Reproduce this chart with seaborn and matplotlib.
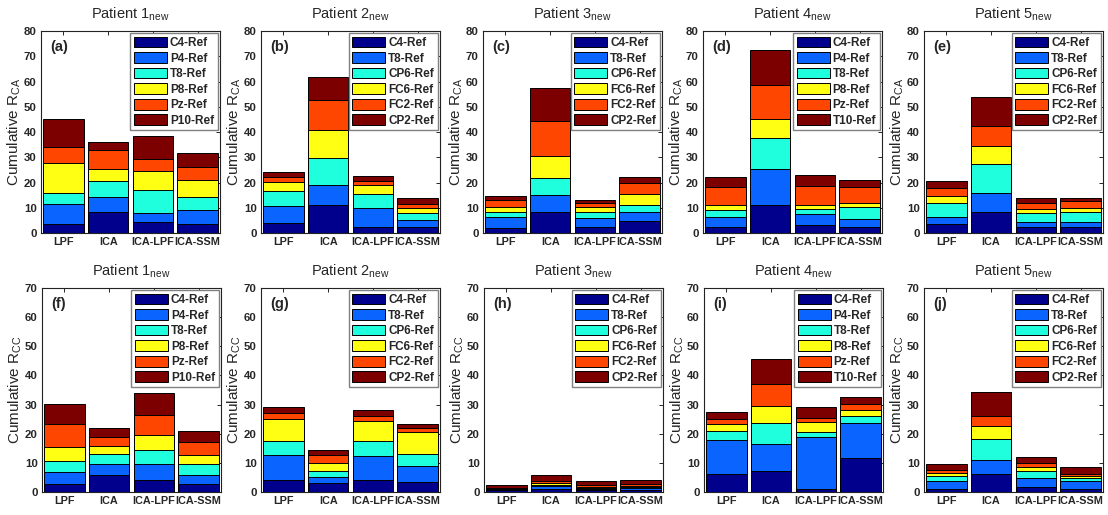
import numpy as np
import pandas as pd
import matplotlib
matplotlib.use("Agg")
import matplotlib.pyplot as plt
import seaborn as sns
from matplotlib.patches import Patch

sns.set_style("white")
plt.rcParams["font.family"] = ["Liberation Sans", "DejaVu Sans"]
plt.rcParams["mathtext.fontset"] = "custom"
plt.rcParams["mathtext.rm"] = "Liberation Sans"
plt.rcParams["mathtext.bf"] = "Liberation Sans:bold"

methods = ["LPF", "ICA", "ICA-LPF", "ICA-SSM"]
patients = ["1", "2", "3", "4", "5"]
labels_ca = ["(a)", "(b)", "(c)", "(d)", "(e)"]
labels_cc = ["(f)", "(g)", "(h)", "(i)", "(j)"]

elec_p1 = ["C4-Ref", "P4-Ref", "T8-Ref", "P8-Ref", "Pz-Ref", "P10-Ref"]
elec_p235 = ["C4-Ref", "T8-Ref", "CP6-Ref", "FC6-Ref", "FC2-Ref", "CP2-Ref"]
elec_p4 = ["C4-Ref", "P4-Ref", "T8-Ref", "P8-Ref", "Pz-Ref", "T10-Ref"]

colors = ["#00008C", "#0A64FF", "#20FFDD", "#FFFF14", "#FF4600", "#7D0000"]

# rows = electrodes (bottom to top), columns = methods (LPF, ICA, ICA-LPF, ICA-SSM)
ca_p1 = [[3.5, 8.2, 4.2, 3.5], [8.0, 6.1, 3.6, 5.7], [4.5, 6.2, 9.2, 5.2],
         [11.8, 4.7, 7.7, 6.4], [6.2, 7.6, 4.5, 5.2], [11.0, 3.2, 9.3, 5.5]]
ca_p2 = [[3.8, 11.2, 2.5, 2.2], [6.7, 7.8, 7.5, 3.0], [6.0, 10.8, 5.5, 2.8],
         [3.8, 11.0, 3.5, 2.0], [1.7, 11.7, 1.5, 1.5], [2.0, 9.2, 2.0, 2.2]]
ca_p3 = [[1.8, 8.2, 2.5, 4.8], [4.5, 6.8, 3.3, 3.5], [2.2, 6.7, 2.5, 2.7],
         [1.8, 8.6, 1.9, 4.3], [2.9, 14.2, 1.5, 4.7], [1.3, 12.8, 1.5, 2.2]]
ca_p4 = [[2.2, 11.0, 3.2, 2.5], [4.0, 14.2, 4.3, 3.2], [2.8, 12.4, 2.2, 4.6],
         [2.0, 7.4, 1.3, 1.4], [7.3, 13.8, 7.6, 6.6], [3.7, 13.5, 4.2, 2.7]]
ca_p5 = [[3.7, 8.5, 2.2, 2.2], [2.8, 7.5, 2.1, 2.1], [5.5, 11.3, 3.7, 4.0],
         [2.8, 7.2, 1.6, 1.7], [3.0, 8.0, 2.4, 2.5], [2.7, 11.5, 1.8, 1.5]]

cc_p1 = [[2.8, 5.8, 4.2, 2.8], [3.9, 3.7, 5.5, 3.2], [3.8, 3.5, 4.7, 3.6],
         [4.8, 2.8, 5.1, 3.1], [8.2, 3.2, 7.0, 4.6], [6.8, 3.0, 7.5, 3.7]]
cc_p2 = [[4.2, 3.2, 4.0, 3.5], [8.6, 2.0, 8.3, 5.5], [4.7, 2.0, 5.2, 4.0],
         [7.5, 2.6, 6.7, 7.5], [2.0, 3.0, 2.0, 1.5], [2.0, 1.7, 1.8, 1.4]]
cc_p3 = [[0.8, 1.0, 0.6, 0.8], [0.2, 1.0, 0.4, 0.5], [0.1, 0.4, 0.3, 0.4],
         [0.1, 0.6, 0.5, 0.5], [0.3, 0.8, 0.5, 0.6], [0.9, 2.2, 1.5, 1.2]]
cc_p4 = [[6.3, 7.3, 1.2, 11.5], [11.5, 9.2, 17.6, 12.3], [3.0, 7.3, 1.7, 2.2],
         [2.7, 5.7, 3.5, 2.0], [1.5, 7.7, 1.5, 2.2], [2.3, 8.6, 3.5, 2.3]]
cc_p5 = [[1.0, 6.3, 1.7, 1.0], [2.7, 4.7, 3.1, 2.7], [1.8, 7.3, 2.4, 1.1],
         [1.0, 4.2, 1.3, 0.8], [1.0, 3.5, 1.5, 0.7], [2.0, 8.3, 2.0, 2.4]]

ca_data = [ca_p1, ca_p2, ca_p3, ca_p4, ca_p5]
cc_data = [cc_p1, cc_p2, cc_p3, cc_p4, cc_p5]
elecs = [elec_p1, elec_p235, elec_p235, elec_p4, elec_p235]

W, H = 1108, 515
fig = plt.figure(figsize=(W / 100, H / 100), dpi=100)

lefts_top = [41, 261, 483, 703, 924]
lefts_bot = [42, 261, 484, 704, 924]
aw = 179


def draw(ax, data, elec, ymax, sub, title, label):
    vals = np.array(data, dtype=float)
    cum = np.cumsum(vals, axis=0)
    for k in range(len(elec) - 1, -1, -1):
        df = pd.DataFrame({"method": methods, "value": cum[k]})
        sns.barplot(data=df, x="method", y="value", order=methods,
                    color=colors[k], saturation=1, width=0.9,
                    edgecolor="black", linewidth=0.7, errorbar=None, ax=ax)
    ax.set_xlim(-0.5, 3.5)
    ax.set_ylim(0, ymax)
    ax.set_yticks(np.arange(0, ymax + 1, 10))
    ax.set_xlabel("")
    ax.set_ylabel("Cumulative R$_{\\rm " + sub + "}$", fontsize=11, labelpad=1)
    ax.set_title("Patient " + title + "$_{\\rm new}$", fontsize=10.5, pad=9)
    ax.tick_params(direction="in", top=True, right=True, length=3, width=0.7,
                   pad=3)
    ax.tick_params(axis="x", labelsize=7.8)
    ax.tick_params(axis="y", labelsize=8.2)
    for t in ax.get_xticklabels() + ax.get_yticklabels():
        t.set_fontweight("bold")
    for s in ax.spines.values():
        s.set_color("#222222")
        s.set_linewidth(0.8)
    ax.text(0.05, 0.955, label, transform=ax.transAxes, fontsize=10.5,
            fontweight="bold", va="top", ha="left")
    handles = [Patch(facecolor=colors[i], edgecolor="black", linewidth=0.7,
                     label=elec[i]) for i in range(len(elec))]
    leg = ax.legend(handles=handles, loc="upper right",
                    handlelength=2.8, handleheight=1.0, handletextpad=0.25,
                    labelspacing=0.27, borderpad=0.3, borderaxespad=0.2,
                    fancybox=False, framealpha=1,
                    prop={"weight": "bold", "size": 8.5})
    leg.get_frame().set_edgecolor("#808080")
    leg.get_frame().set_linewidth(1.0)


for i in range(5):
    ax = fig.add_axes([lefts_top[i] / W, 1 - 233 / H, aw / W, (233 - 31) / H])
    draw(ax, ca_data[i], elecs[i], 80, "CA", patients[i], labels_ca[i])
    ax2 = fig.add_axes([lefts_bot[i] / W, 1 - 492 / H, aw / W, (492 - 288) / H])
    draw(ax2, cc_data[i], elecs[i], 70, "CC", patients[i], labels_cc[i])

fig.savefig("out.png", dpi=100)
